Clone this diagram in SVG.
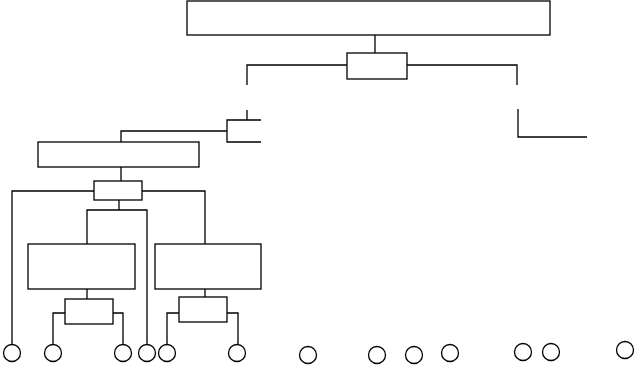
<svg xmlns="http://www.w3.org/2000/svg" width="644" height="369" viewBox="0 0 644 369">
<style>
.n{fill:#fff;stroke:#000;stroke-width:1.3}
.c{fill:none;stroke:#000;stroke-width:1.3}
</style>
<rect width="644" height="369" fill="#fff"/>
<g id="connectors">
<path class="c" d="M375,35V53"/>
<path class="c" d="M347,65H247V85"/>
<path class="c" d="M407,65H517V85"/>
<path class="c" d="M247,110V120"/>
<path class="c" d="M261,120H227V142H261"/>
<path class="c" d="M227,131H121V142"/>
<path class="c" d="M518,109V137H587"/>
<path class="c" d="M121,167V181"/>
<path class="c" d="M94,191H12V344"/>
<path class="c" d="M142,191H205V244"/>
<path class="c" d="M119,200V210"/>
<path class="c" d="M87,244V210H147V344"/>
<path class="c" d="M87,289V299"/>
<path class="c" d="M65,313H53V344"/>
<path class="c" d="M113,313H123V344"/>
<path class="c" d="M205,289V297"/>
<path class="c" d="M179,313H167V344"/>
<path class="c" d="M227,313H238V344"/>
</g>
<g id="n1"><rect class="n" x="187" y="1" width="363" height="34"/></g>
<g id="n2"><rect class="n" x="347" y="53" width="60" height="26"/></g>
<g id="n3"><rect class="n" x="38" y="142" width="161" height="25"/></g>
<g id="n4"><rect class="n" x="94" y="181" width="48" height="19"/></g>
<g id="n5"><rect class="n" x="28" y="244" width="107" height="45"/></g>
<g id="n6"><rect class="n" x="155" y="244" width="106" height="45"/></g>
<g id="n7"><rect class="n" x="65" y="299" width="48" height="25"/></g>
<g id="n8"><rect class="n" x="179" y="297" width="48" height="25"/></g>
<g id="c1"><circle class="n" cx="12" cy="353" r="8.5"/></g>
<g id="c2"><circle class="n" cx="53" cy="353" r="8.5"/></g>
<g id="c3"><circle class="n" cx="123" cy="353" r="8.5"/></g>
<g id="c4"><circle class="n" cx="147" cy="353" r="8.5"/></g>
<g id="c5"><circle class="n" cx="167" cy="353" r="8.5"/></g>
<g id="c6"><circle class="n" cx="237" cy="353" r="8.5"/></g>
<g id="c7"><circle class="n" cx="308" cy="355" r="8.5"/></g>
<g id="c8"><circle class="n" cx="377" cy="355" r="8.5"/></g>
<g id="c9"><circle class="n" cx="414" cy="355" r="8.5"/></g>
<g id="c10"><circle class="n" cx="450" cy="353" r="8.5"/></g>
<g id="c11"><circle class="n" cx="523" cy="352" r="8.5"/></g>
<g id="c12"><circle class="n" cx="551" cy="352" r="8.5"/></g>
<g id="c13"><circle class="n" cx="625" cy="350" r="8.5"/></g>
</svg>
